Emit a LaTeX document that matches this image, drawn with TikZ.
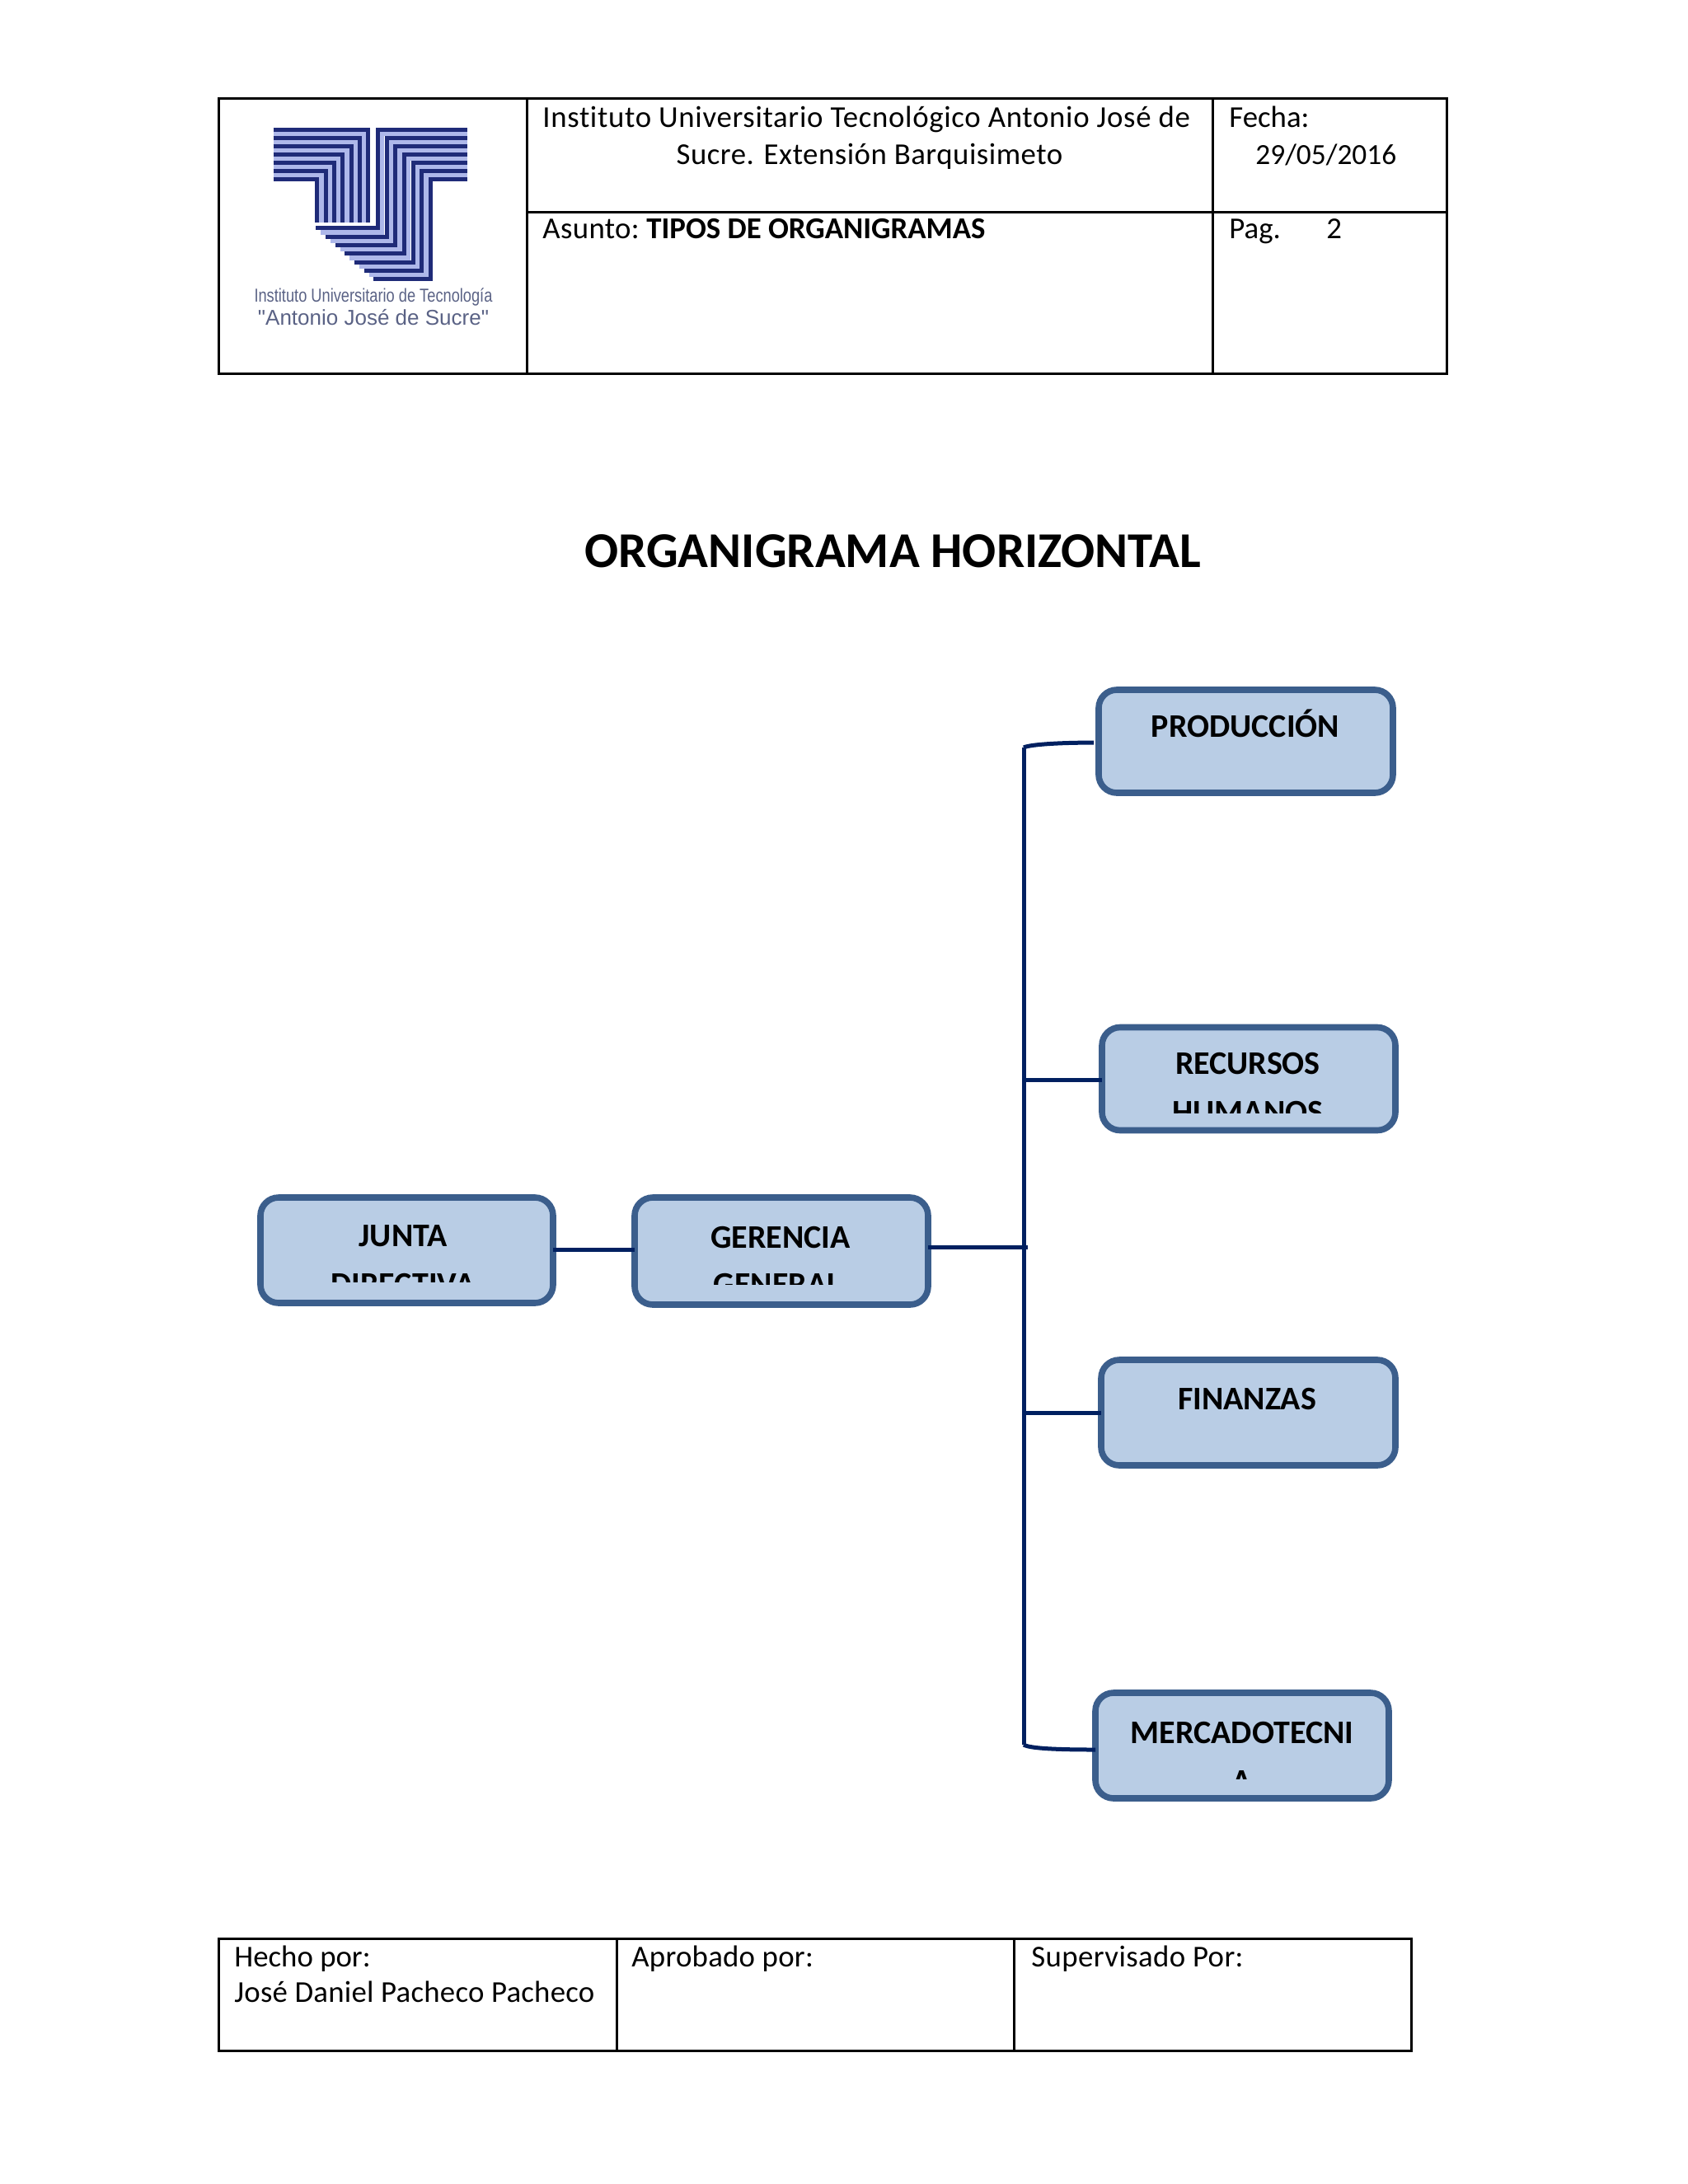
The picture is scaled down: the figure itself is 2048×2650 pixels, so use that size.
\documentclass[tikz,border=0pt]{standalone}
\usepackage{fontspec}
\setmainfont{Carlito}[Ligatures=CommonOff]
\newfontfamily\logofont{Liberation Sans}
\definecolor{boxfill}{HTML}{B9CDE5}
\definecolor{boxedge}{HTML}{3B5E8C}
\definecolor{wire}{HTML}{002060}
\definecolor{logodark}{HTML}{1F2B78}
\definecolor{logolight}{HTML}{AEB8EA}
\definecolor{logotext}{HTML}{5A6285}
\newcommand{\spaced}[1]{\addfontfeature{LetterSpace=#1}}
\tikzset{
  cellline/.style={draw=black,line width=1.5pt},
  celltext/.style={anchor=base west,inner sep=0pt,font=\fontsize{18.4}{22}\selectfont},
  orgbox/.style={draw=boxedge,fill=boxfill,line width=3.8pt,rounded corners=11pt,outer sep=0pt,inner sep=0pt},
  orgtext/.style={anchor=base,inner sep=0pt,font=\bfseries\fontsize{20}{24}\selectfont},
  wireline/.style={draw=wire,line width=2.5pt},
  logotxt/.style={inner sep=0pt,text=logotext,anchor=base,transform shape},
}
\begin{document}
\begin{tikzpicture}[x=0.5pt,y=-0.5pt]
\useasboundingbox (0,0) rectangle (2048,2650);
% header table
\draw[cellline] (265,119) rectangle (1755,453);
\draw[cellline] (639,119) -- (639,453);
\draw[cellline] (1471,119) -- (1471,453);
\draw[cellline] (639,257) -- (1755,257);
% logo
\begin{scope}[shift={(250,100)},x=0.16667pt,y=-0.16667pt]
  \foreach \i in {0,...,5}{
    \pgfmathsetmacro\ya{187+30*\i}
    \pgfmathsetmacro\xa{574.5-31*\i}
    \pgfmathsetmacro\xb{641+32*\i}
    \pgfmathsetmacro\yb{545.5+31*\i}
    \pgfmathsetmacro\xc{417.5+35*\i}
    \draw[logolight,line width=2.7pt] (245,\ya) -- (\xa,\ya) -- (\xa,510);
    \draw[logolight,line width=2.7pt] (950,\ya) -- (\xb,\ya) -- (\xb,\yb) -- (\xc,\yb);
  }
  \foreach \i in {0,...,6}{
    \pgfmathsetmacro\ya{172+30*\i}
    \pgfmathsetmacro\xa{590-31*\i}
    \pgfmathsetmacro\xb{625+32*\i}
    \pgfmathsetmacro\yb{530+31*\i}
    \pgfmathsetmacro\xc{400+35*\i}
    \draw[logodark,line width=2.5pt] (245,\ya) -- (\xa,\ya) -- (\xa,510);
    \draw[logodark,line width=2.5pt] (950,\ya) -- (\xb,\ya) -- (\xb,\yb) -- (\xc,\yb);
  }
\end{scope}
\node[logotxt,xscale=.8,font=\logofont\fontsize{11.4}{13}\selectfont] (logoa) at (453,366) {Instituto Universitario de Tecnología};
\node[logotxt,font=\logofont\fontsize{13}{16}\selectfont] (logob) at (453,394) {"Antonio José de Sucre"};
% header text
\node[celltext,font=\fontsize{18.4}{22}\selectfont\spaced{1.85}] (inst) at (658,154) {Instituto Universitario Tecnológico Antonio José de};
\node[celltext,anchor=base,font=\fontsize{18.4}{22}\selectfont\spaced{1.4}] (sucre) at (1055,199) {Sucre. Extensión Barquisimeto};
\node[celltext,font=\fontsize{18.4}{22}\selectfont\spaced{1}] (asunto) at (658,289) {Asunto:};
\node[celltext,font=\bfseries\fontsize{18.4}{22}\selectfont] (tipos) at (784,289) {TIPOS DE ORGANIGRAMAS};
\node[celltext] (fecha) at (1491,154) {Fecha:};
\node[celltext,font=\fontsize{17.7}{22}\selectfont] (date) at (1523,199) {29/05/2016};
\node[celltext] (pag) at (1491,289) {Pag.};
\node[celltext] (pagn) at (1609,289) {2};
% title
\node[anchor=base,inner sep=0pt,font=\bfseries\fontsize{30.4}{36}\selectfont] (title) at (1083,688) {ORGANIGRAMA HORIZONTAL};
% boxes
\node[orgbox,minimum width=178.5pt,minimum height=62.5pt] (prod) at (1511.5,899.5) {};
\node[orgbox,minimum width=178pt,minimum height=62.5pt] (recu) at (1515,1309) {};
\node[orgbox,minimum width=178.5pt,minimum height=64pt] (fina) at (1514.5,1714) {};
\node[orgbox,minimum width=178pt,minimum height=64pt] (merc) at (1507,2118) {};
\node[orgbox,minimum width=177.5pt,minimum height=64pt] (junt) at (493.5,1517) {};
\node[orgbox,minimum width=178pt,minimum height=65pt] (gere) at (948,1518) {};
% box texts
\node[orgtext] (tprod) at (1511,894) {PRODUCCIÓN};
\node[orgtext] (tfina) at (1513,1710) {FINANZAS};
\node[orgtext] (trecu) at (1514,1303) {RECURSOS};
\node[orgtext] (tmerc) at (1507,2115) {MERCADOTECNI};
\node[orgtext] (tjunt) at (489,1512) {JUNTA};
\node[orgtext] (tgere) at (947,1514) {GERENCIA};
\begin{scope}
  \clip (1340,1320) rectangle (1690,1350);
  \node[orgtext] (trecb) at (1514,1362) {HUMANOS};
\end{scope}
\begin{scope}
  \clip (1335,2130) rectangle (1680,2158);
  \node[orgtext] (tmerb) at (1507,2174) {A};
\end{scope}
\begin{scope}
  \clip (320,1525) rectangle (665,1555);
  \node[orgtext] (tjunb) at (489,1571) {DIRECTIVA};
\end{scope}
\begin{scope}
  \clip (775,1525) rectangle (1120,1558);
  \node[orgtext] (tgerb) at (943,1571) {GENERAL};
\end{scope}
% connectors
\coordinate (ttop) at (1242,907);
\coordinate (tbot) at (1242,2117);
\coordinate (tmid) at (1247,1513);
\coordinate (trec) at (1242,1310);
\coordinate (tfin) at (1242,1714);
\draw[wireline] ([yshift=0.5pt]junt.east) -- ([yshift=1pt]gere.west);
\draw[wireline] ([yshift=2.5pt]gere.east) -- (tmid);
\draw[wireline] (ttop) -- (tbot);
\draw[wireline] (trec) -- (recu.west |- trec);
\draw[wireline] (tfin) -- (fina.west);
\draw[wireline] (tbot) .. controls (1250,2122) and (1290,2123) .. ([yshift=-2.5pt]merc.west);
\draw[wireline] (ttop) .. controls (1250,903) and (1290,901) .. ([xshift=-3pt,yshift=-0.8pt]prod.west);
% footer table
\draw[cellline] (265,2352) rectangle (1712,2488);
\draw[cellline] (748,2352) -- (748,2488);
\draw[cellline] (1230,2352) -- (1230,2488);
\node[celltext] (hecho) at (284,2386) {Hecho por:};
\node[celltext,font=\fontsize{18.4}{22}\selectfont\spaced{0.7}] (jose) at (284,2429) {José Daniel Pacheco Pacheco};
\node[celltext,font=\fontsize{18.4}{22}\selectfont\spaced{0.7}] (apro) at (766,2386) {Aprobado por:};
\node[celltext,font=\fontsize{18.4}{22}\selectfont\spaced{1.1}] (supe) at (1251,2386) {Supervisado Por:};
\end{tikzpicture}
\end{document}
